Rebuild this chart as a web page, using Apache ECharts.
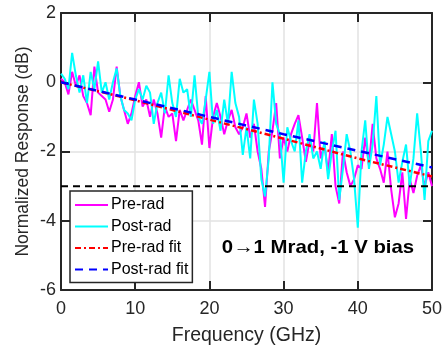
<!DOCTYPE html>
<html><head><meta charset="utf-8">
<script src="https://cdn.jsdelivr.net/npm/echarts@6/dist/echarts.min.js"></script>
<style>html,body{margin:0;padding:0;background:#fff}#c{width:446px;height:347px}</style>
</head><body><div id="c"></div>
<script>
var freq = [];
for (var i = 0; i <= 100; i++) freq.push(i * 0.5);
var preRad = [0.1,0.0,-0.35,0.3,-0.1,0.2,-0.4,-0.6,-0.95,0.45,-0.3,-0.4,-0.5,-0.85,-0.5,0.45,-0.4,-0.8,-1.2,-0.9,-0.4,0.0,-0.7,-0.5,-1.0,-0.5,-0.9,-1.6,-0.7,-1.0,-0.9,-1.7,-0.8,-1.1,-0.8,-0.5,-0.8,-1.1,-1.8,-0.4,-1.9,-1.0,-0.6,-1.0,-1.5,-1.1,-0.8,-1.3,-1.5,-1.3,-0.9,-1.6,-1.2,-2.0,-2.5,-3.6,-2.0,-1.4,-0.6,-2.2,-1.6,-2.0,-1.5,-1.2,-0.95,-1.6,-2.3,-1.7,-2.0,-0.6,-2.2,-1.8,-2.6,-1.5,-3.0,-3.5,-2.0,-2.6,-3.0,-2.8,-2.4,-2.5,-1.6,-2.4,-1.2,-2.2,-2.5,-2.9,-2.0,-3.1,-3.9,-3.5,-2.6,-3.95,-2.8,-3.2,-2.7,-2.4,-3.0,-2.6,-3.0];
var postRad = [0.25,0.1,-0.2,0.85,0.2,-0.3,0.2,-0.6,0.3,-0.2,0.6,-0.3,0.0,-0.5,0.0,0.4,-0.4,-0.8,-0.9,-1.1,-0.5,-0.2,-0.5,-0.1,-0.3,-1.2,-0.6,-0.3,-0.9,0.2,-0.6,-1.0,0.1,-0.3,-0.2,-1.0,0.2,-1.0,-1.2,-0.5,0.3,-1.2,-0.8,-1.4,-0.5,-1.2,0.3,-0.6,-1.0,-2.1,-1.3,-2.2,-0.5,-1.2,-2.8,-3.3,-2.2,0.0,-1.2,-1.5,-2.9,-1.3,-1.7,-2.0,-1.1,-2.9,-2.0,-1.5,-2.2,-2.0,-2.5,-1.7,-2.8,-2.0,-1.4,-3.4,-2.5,-1.5,-2.0,-2.8,-4.2,-2.0,-1.1,-2.5,-1.8,-0.4,-2.4,-1.8,-1.0,-1.5,-2.0,-2.9,-2.3,-1.8,-3.0,-2.2,-0.9,-2.0,-3.4,-1.7,-1.4];
var fitFreq = [0, 10, 20, 30, 40, 50];
var preFit = [0, -0.52, -1.08, -1.63, -2.2, -2.72];
var postFit = [0, -0.5, -1.0, -1.5, -1.98, -2.46];
var refLevel = -3;
var legendNames = ['Pre-rad', 'Post-rad', 'Pre-rad fit', 'Post-rad fit'];
var annotation = '0\u21921 Mrad, -1 V bias';

function pairs(xs, ys){ return xs.map(function(x, i){ return [x, ys[i]]; }); }

var axisCol = '#262626';
var font = 'Arial, Liberation Sans, sans-serif';
function boxAxis(extra){
  var a = {
    axisLine: {show: true, onZero: false, lineStyle: {color: axisCol, width: 2}},
    axisTick: {show: true, inside: true, length: 9, lineStyle: {color: axisCol, width: 2}},
    axisLabel: {show: false}, splitLine: {show: false}
  };
  for (var k in extra) a[k] = extra[k];
  return a;
}
var chart = echarts.init(document.getElementById('c'));
chart.setOption({
  animation: false,
  backgroundColor: '#fff',
  grid: {left: 61, right: 14, top: 13, bottom: 57, containLabel: false, outerBoundsMode: 'none'},
  xAxis: [boxAxis({
    type: 'value', min: 0, max: 50, interval: 10, position: 'bottom',
    name: 'Frequency (GHz)', nameLocation: 'middle', nameGap: 36, nameMoveOverlap: false,
    nameTextStyle: {fontFamily: font, fontSize: 19.5, color: axisCol},
    axisLabel: {fontFamily: font, fontSize: 18, color: axisCol, margin: 10},
    splitLine: {show: true, lineStyle: {color: '#e2e2e2', width: 1.5}}
  }), boxAxis({
    type: 'value', min: 0, max: 50, interval: 10, position: 'top'
  })],
  yAxis: [boxAxis({
    type: 'value', min: -6, max: 2, interval: 2, position: 'left',
    name: 'Normalized Response (dB)', nameLocation: 'middle', nameGap: 29, nameMoveOverlap: false,
    nameTextStyle: {fontFamily: font, fontSize: 17.5, color: axisCol},
    axisLabel: {fontFamily: font, fontSize: 18, color: axisCol, margin: 5},
    splitLine: {show: true, lineStyle: {color: '#e2e2e2', width: 1.5}}
  }), boxAxis({
    type: 'value', min: -6, max: 2, interval: 2, position: 'right'
  })],
  legend: {
    data: legendNames,
    orient: 'vertical', left: 70, top: 191,
    backgroundColor: '#fff', borderColor: axisCol, borderWidth: 1.5, borderRadius: 0,
    padding: [6, 4, 5, 4], itemGap: 5.5, itemWidth: 33, itemHeight: 16,
    itemStyle: {opacity: 0},
    textStyle: {fontFamily: font, fontSize: 16, color: '#000', padding: [0, 0, 0, -2]}
  },
  series: [
    {name: legendNames[0], type: 'line', data: pairs(freq, preRad), symbol: 'none',
      lineStyle: {color: '#ff00ff', width: 2}, itemStyle: {color: '#ff00ff'}, z: 2},
    {name: legendNames[1], type: 'line', data: pairs(freq, postRad), symbol: 'none',
      lineStyle: {color: '#00ffff', width: 2}, itemStyle: {color: '#00ffff'}, z: 3},
    {name: 'ref', type: 'line', data: [[0, refLevel], [50, refLevel]], symbol: 'none',
      lineStyle: {color: '#000', width: 2, type: [7, 5]}, z: 4, silent: true},
    {name: legendNames[2], type: 'line', data: pairs(fitFreq, preFit), symbol: 'none',
      lineStyle: {color: '#ff0000', width: 2.5, type: [6, 3, 2, 3]}, itemStyle: {color: '#ff0000'}, z: 5},
    {name: legendNames[3], type: 'line', data: pairs(fitFreq, postFit), symbol: 'none',
      lineStyle: {color: '#0000ff', width: 2.5, type: [8, 6]}, itemStyle: {color: '#0000ff'}, z: 6}
  ],
  graphic: [{
    type: 'text', x: 318, y: 248, scaleX: 1.1, z: 100,
    style: {text: annotation, x: 0, y: 0, align: 'center', verticalAlign: 'middle',
      fontFamily: font, fontWeight: 'bold', fontSize: 18.5, fill: '#000'}
  }]
});
</script></body></html>
